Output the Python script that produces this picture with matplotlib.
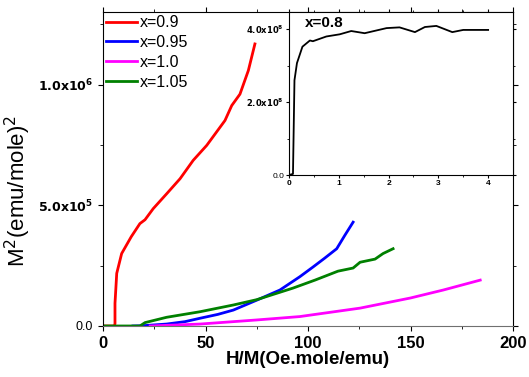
import numpy as np
from matplotlib import pyplot as plt
from matplotlib.ticker import FuncFormatter, MultipleLocator

plt.rcParams['font.family'] = ['Liberation Sans', 'DejaVu Sans']

# x=0.9
x09 = [0, 5.6, 5.85, 5.85, 6.7, 9.1, 13.8, 18, 20.5, 24.5, 31.1, 37.6, 44, 50.6, 59.5, 62.8, 66.8, 70.9, 74.1]
y09 = [0, 0, 1e4, 0.94e5, 2.18e5, 3.0e5, 3.7e5, 4.24e5, 4.4e5, 4.86e5, 5.48e5, 6.1e5, 6.86e5, 7.48e5,
       8.51e5, 9.13e5, 9.6e5, 1.058e6, 1.168e6]
# x=0.95
x095 = [14.6, 19, 31, 40, 47.3, 56, 63.6, 75, 86.3, 96, 102.4, 108, 114, 118, 122]
y095 = [0, 1e3, 8e3, 1.8e4, 3.2e4, 4.8e4, 6.6e4, 1.07e5, 1.49e5, 2.04e5, 2.44e5, 2.8e5, 3.2e5, 3.76e5, 4.3e5]
# x=1.0
x10 = [23, 47.3, 75, 96, 101, 125.4, 150, 166, 184]
y10 = [0, 8e3, 2.5e4, 3.9e4, 4.5e4, 7.4e4, 1.16e5, 1.49e5, 1.9e5]
# x=1.05
x105 = [0, 18, 20.5, 31, 47.3, 63.6, 75, 92.7, 103.4, 114.6, 122, 125.4, 132.7, 136.6, 141.5]
y105 = [0, 0, 1.4e4, 3.6e4, 5.9e4, 8.7e4, 1.09e5, 1.57e5, 1.9e5, 2.27e5, 2.4e5, 2.64e5, 2.77e5, 3.0e5, 3.2e5]
# inset x=0.8
xi = [0, 0.08, 0.11, 0.16, 0.27, 0.42, 0.48, 0.75, 1.02, 1.25, 1.52, 1.96, 2.22, 2.53, 2.73, 2.96, 3.28, 3.5, 4.0]
yi = [0, 0.03e8, 2.6e8, 3.07e8, 3.52e8, 3.69e8, 3.67e8, 3.8e8, 3.86e8, 3.95e8, 3.89e8, 4.03e8, 4.05e8,
      3.92e8, 4.06e8, 4.09e8, 3.92e8, 3.98e8, 3.98e8]


def sci(v, pos):
    if v == 0:
        return "0.0"
    e = int(np.floor(np.log10(abs(v))))
    m = v / 10 ** e
    return r"$\mathbf{%.1fx10^{%d}}$" % (m, e)


fig = plt.figure(figsize=(5.29, 3.77), dpi=100)
ax = fig.add_axes([0.1947, 0.1353, 0.7751, 0.8327])
ax.plot(x09, y09, color="red", lw=2, label="x=0.9")
ax.plot(x095, y095, color="blue", lw=2, label="x=0.95")
ax.plot(x10, y10, color="magenta", lw=2, label="x=1.0")
ax.plot(x105, y105, color="green", lw=2, label="x=1.05")
ax.set_xlim(0, 200)
ax.set_ylim(0, 1.3e6)
ax.xaxis.set_major_locator(MultipleLocator(50))
ax.xaxis.set_minor_locator(MultipleLocator(25))
ax.yaxis.set_major_locator(MultipleLocator(5e5))
ax.yaxis.set_minor_locator(MultipleLocator(2.5e5))
ax.yaxis.set_major_formatter(FuncFormatter(sci))
ax.tick_params(which="both", direction="out", top=True, right=True)
ax.tick_params(axis="x", labelsize=12)
ax.tick_params(axis="y", labelsize=9)
for t in ax.get_xticklabels():
    t.set_fontweight("bold")
ax.set_xlabel("H/M(Oe.mole/emu)", fontsize=13.5, fontweight="bold", labelpad=0)
ax.set_ylabel(r"M$^2$(emu/mole)$^2$", fontsize=16)
ax.yaxis.set_label_coords(-0.17, 0.43)
ax.spines["bottom"].set_color("#707070")
ax.legend(loc="upper left", frameon=False, fontsize=11.5, handlelength=1.9,
          handletextpad=0.2, labelspacing=0.3, borderaxespad=0.1, borderpad=0.1)

ins = fig.add_axes([0.5463, 0.5358, 0.4235, 0.4322])
ins.plot(xi, yi, color="black", lw=1.3)
ins.set_xlim(0, 4.5)
ins.set_ylim(0, 4.47e8)
ins.xaxis.set_major_locator(MultipleLocator(1))
ins.xaxis.set_minor_locator(MultipleLocator(0.5))
ins.yaxis.set_major_locator(MultipleLocator(2e8))
ins.yaxis.set_minor_locator(MultipleLocator(1e8))
ins.yaxis.set_major_formatter(FuncFormatter(sci))
ins.tick_params(which="both", direction="out", labelsize=6, length=2.5, pad=1, right=True, top=True)
ins.tick_params(which="minor", length=1.5)
for t in ins.get_xticklabels():
    t.set_fontweight("bold")
ins.text(0.07, 0.93, "x=0.8", transform=ins.transAxes, fontsize=11, fontweight="bold", va="center")

fig.savefig("out.png", dpi=100)
